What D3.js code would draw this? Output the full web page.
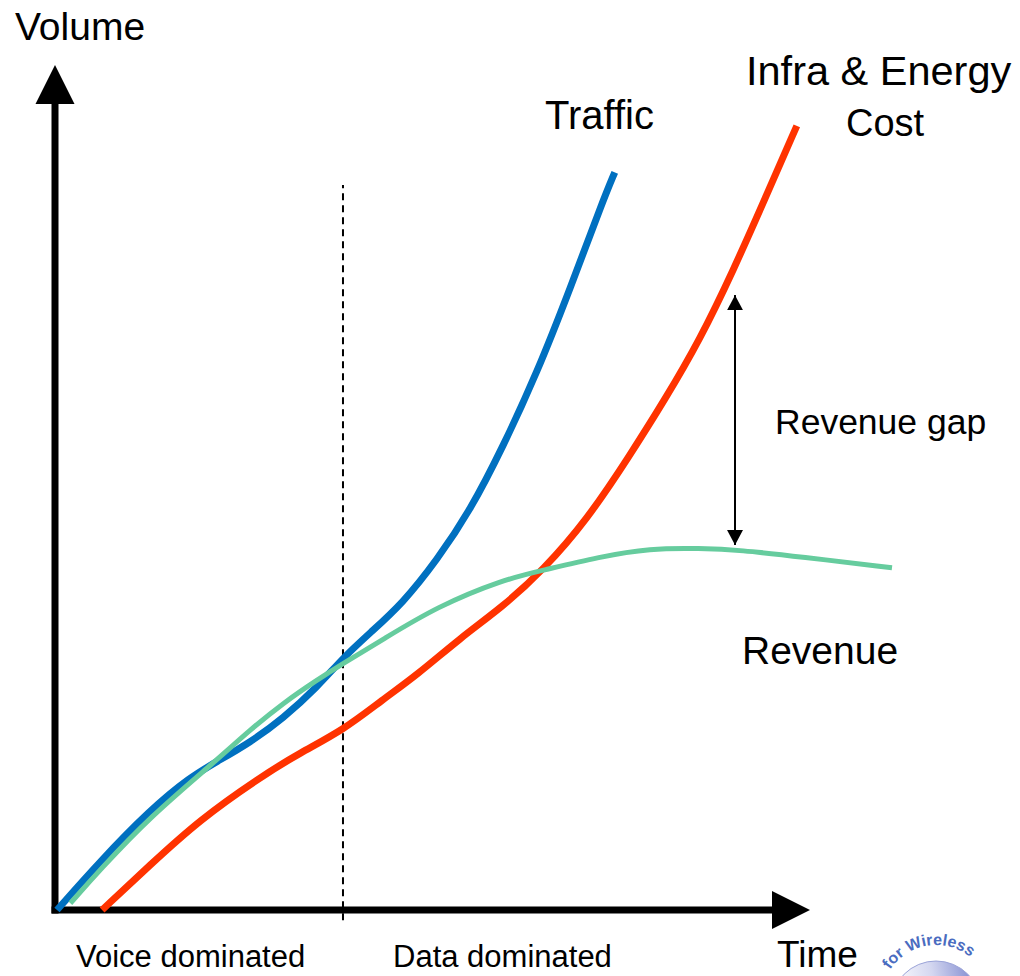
<!DOCTYPE html>
<html>
<head>
<meta charset="utf-8">
<script src="https://cdn.jsdelivr.net/npm/d3@7"></script>
<style>
  body { margin: 0; background: #fff; }
  text { font-family: "Liberation Sans", Arial, sans-serif; fill: #000; }
</style>
</head>
<body>
<script>
// time (x) and volume (y) readings, both on a 0-100 scale
var trafficT = [0, 5.1, 11.1, 15.9, 19.2, 23.1, 27.1, 31.1, 34.3, 37.5, 41.4, 45.5, 49.5, 53.4, 57.5, 61.4, 65.4, 66.8];
var trafficV = [0, 5.7, 11.8, 15.7, 17.6, 19.8, 22.7, 26.3, 29.9, 32.8, 36.3, 41.4, 47.3, 54.8, 63.6, 73.4, 84.0, 87.3];

var costT = [5.4, 11.1, 17.1, 24.3, 29.1, 34.3, 39.0, 43.1, 48.3, 53.4, 58.2, 63.5, 68.6, 72.8, 77.0, 81.0, 84.8, 88.6];
var costV = [0, 5.3, 10.7, 15.7, 18.6, 21.3, 24.9, 27.8, 32.2, 35.9, 40.2, 46.2, 53.8, 60.4, 67.5, 75.7, 84.2, 92.8];

var revenueT = [1.6, 5.1, 11.1, 19.2, 23.1, 27.1, 31.1, 34.3, 39.0, 45.5, 53.4, 58.2, 65.0, 71.0, 77.0, 81.8, 89.0, 100];
var revenueV = [0.8, 4.7, 11.0, 17.8, 21.3, 24.5, 27.2, 29.2, 32.0, 35.9, 39.1, 40.2, 41.8, 42.8, 42.8, 42.6, 41.8, 40.5];

// phase split and revenue gap marker
var dividerT = [34.25];
var dividerV = [-1.2, 85.8];
var gapT = [81.2];
var gapV = [43.2, 73.7];

var width = 1020,
    height = 976;

var svg = d3.select("body").append("svg")
    .attr("width", width)
    .attr("height", height);

svg.append("rect").attr("width", width).attr("height", height).attr("fill", "#fff");

var x = d3.scaleLinear().domain([0, 100]).range([57, 892]);
var y = d3.scaleLinear().domain([0, 100]).range([910, 65]);

var defs = svg.append("defs");
defs.append("marker")
    .attr("id", "head")
    .attr("viewBox", "0 0 15 16")
    .attr("refX", 15).attr("refY", 8)
    .attr("markerWidth", 15).attr("markerHeight", 16)
    .attr("markerUnits", "userSpaceOnUse")
    .attr("orient", "auto")
    .append("path")
    .attr("d", "M0,0L15,8L0,16Z")
    .attr("fill", "#000");

var grad = defs.append("linearGradient").attr("id", "disc")
    .attr("x1", 0).attr("x2", 1).attr("y1", 0.2).attr("y2", 0);
grad.append("stop").attr("offset", "0%").attr("stop-color", "#ffffff");
grad.append("stop").attr("offset", "45%").attr("stop-color", "#d4d7f0");
grad.append("stop").attr("offset", "100%").attr("stop-color", "#6f7bc9");

// dashed divider between voice and data eras
svg.append("line")
    .attr("x1", x(dividerT[0])).attr("x2", x(dividerT[0]))
    .attr("y1", y(dividerV[0])).attr("y2", y(dividerV[1]))
    .attr("stroke", "#000")
    .attr("stroke-width", 2)
    .attr("stroke-dasharray", "7,5");

// axes with arrow heads
var ox = 55, oy = 910;
svg.append("line")
    .attr("x1", ox).attr("x2", ox)
    .attr("y1", oy + 3.5).attr("y2", 100)
    .attr("stroke", "#000").attr("stroke-width", 7);
svg.append("path")
    .attr("d", "M" + ox + ",65L" + (ox + 19.5) + ",104L" + (ox - 19.5) + ",104Z")
    .attr("fill", "#000");
svg.append("line")
    .attr("x1", ox - 3.5).attr("x2", 776)
    .attr("y1", oy).attr("y2", oy)
    .attr("stroke", "#000").attr("stroke-width", 7);
svg.append("path")
    .attr("d", "M810," + oy + "L772," + (oy - 19) + "L772," + (oy + 19) + "Z")
    .attr("fill", "#000");

var line = d3.line()
    .x(function(d) { return x(d[0]); })
    .y(function(d) { return y(d[1]); })
    .curve(d3.curveBasis);

var series = [
    {t: trafficT, v: trafficV, color: "#0070c0", w: 7},
    {t: costT, v: costV, color: "#ff3300", w: 7},
    {t: revenueT, v: revenueV, color: "#66cc9e", w: 5}
];

series.forEach(function(s) {
    svg.append("path")
        .datum(d3.zip(s.t, s.v))
        .attr("d", line)
        .attr("fill", "none")
        .attr("stroke", s.color)
        .attr("stroke-width", s.w);
});

// revenue gap double arrow
svg.append("line")
    .attr("x1", x(gapT[0])).attr("x2", x(gapT[0]))
    .attr("y1", y(gapV[0]) - 8).attr("y2", y(gapV[1]) + 8)
    .attr("stroke", "#000").attr("stroke-width", 2)
    .attr("marker-end", "url(#head)");
svg.append("line")
    .attr("x1", x(gapT[0])).attr("x2", x(gapT[0]))
    .attr("y1", y(gapV[1]) + 8).attr("y2", y(gapV[0]))
    .attr("stroke", "#000").attr("stroke-width", 2)
    .attr("marker-end", "url(#head)");

// labels
var labels = [
    {text: "Volume", x: 15, y: 40, size: 39},
    {text: "Traffic", x: 545, y: 129, size: 40},
    {text: "Infra & Energy", x: 746, y: 85, size: 41.5},
    {text: "Cost", x: 846, y: 136, size: 38},
    {text: "Revenue gap", x: 775, y: 434, size: 35.5},
    {text: "Revenue", x: 742, y: 664, size: 39},
    {text: "Voice dominated", x: 76, y: 967, size: 31},
    {text: "Data dominated", x: 393, y: 967, size: 31},
    {text: "Time", x: 777, y: 967, size: 37}
];
svg.selectAll("text.lbl")
    .data(labels)
    .enter().append("text")
    .attr("class", "lbl")
    .attr("x", function(d) { return d.x; })
    .attr("y", function(d) { return d.y; })
    .attr("font-size", function(d) { return d.size; })
    .text(function(d) { return d.text; });

// partial logo in the corner
var cx = 936, cy = 1006;
svg.append("circle")
    .attr("cx", cx).attr("cy", cy).attr("r", 45)
    .attr("fill", "url(#disc)")
    .attr("stroke", "#9aa3d8").attr("stroke-width", 1);
var acy = 1000, r = 55, a0 = 171 * Math.PI / 180, a1 = 351 * Math.PI / 180;
defs.append("path")
    .attr("id", "arc")
    .attr("d", "M" + (cx + r * Math.cos(a0)) + "," + (acy + r * Math.sin(a0)) +
        "A" + r + "," + r + " 0 0 1 " + (cx + r * Math.cos(a1)) + "," + (acy + r * Math.sin(a1)));
svg.append("text")
    .attr("font-size", 16)
    .attr("font-weight", "bold")
    .style("fill", "#4a6cc0")
    .append("textPath")
    .attr("href", "#arc")
    .attr("startOffset", "50%")
    .attr("text-anchor", "middle")
    .text("for Wireless");
</script>
</body>
</html>
